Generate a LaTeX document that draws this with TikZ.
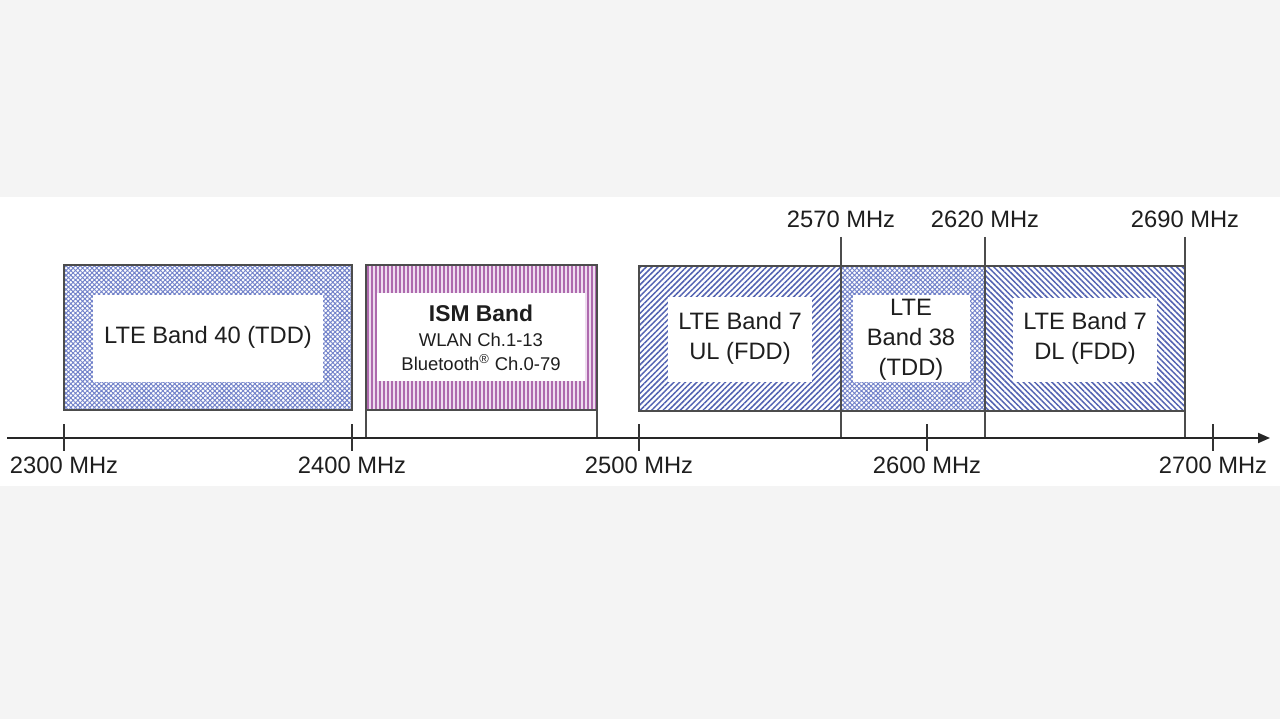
\documentclass[tikz,border=0pt]{standalone}
\usepackage{fontspec}
\setmainfont{Liberation Sans}
\usepackage{tikz}
\usetikzlibrary{arrows.meta, calc, patterns.meta, positioning}
\usepackage{xcolor}
\definecolor{hatchblue}{HTML}{5262B2}
\definecolor{crossblue}{HTML}{7282CA}
\definecolor{ismpurple}{HTML}{AE6AAE}
\definecolor{ismpink}{HTML}{EEDCEF}
\definecolor{pagegray}{HTML}{F4F4F4}
\definecolor{textgray}{HTML}{1E1E1E}

\begin{document}
\begin{tikzpicture}[x=0.02cm, y=-0.02cm, line cap=butt, line join=miter,
	>={Triangle[length=0.24cm, width=0.2cm]},
	frame/.style={draw=black!70, line width=0.6pt},
	cross/.style={pattern={Hatch[angle=45, distance=1.9pt, line width=0.55pt]}, pattern color=crossblue},
	diagne/.style={pattern={Lines[angle=45, distance=2.3pt, line width=0.85pt]}, pattern color=hatchblue},
	diagnw/.style={pattern={Lines[angle=-45, distance=2.3pt, line width=0.85pt]}, pattern color=hatchblue},
	ismlines/.style={pattern={Lines[angle=90, distance=0.08cm, line width=0.032cm]}, pattern color=ismpurple},
	label/.style={text=textgray, font=\fontsize{13.5}{16.4}\selectfont, inner sep=0pt},
	bandtext/.style={text=textgray, font=\fontsize{13.5}{17}\selectfont, align=center, inner sep=0pt},
	smalltext/.style={text=textgray, font=\fontsize{10.5}{13}\selectfont, inner sep=0pt}]
	% page and white band
	\useasboundingbox (0,0) rectangle (1280,719);
	\fill[pagegray] (0,0) rectangle (1280,719);
	\fill[white] (0,197) rectangle (1280,486);

	% frequency axis
	\coordinate (start) at (7,438);
	\coordinate (end) at (1270,438);
	\coordinate (f2300) at (64,438);
	\coordinate (f2400) at (352,438);
	\coordinate (f2500) at (639,438);
	\coordinate (f2600) at (927,438);
	\coordinate (f2700) at (1213,438);

	% LTE band 40
	\path[cross] (64,265) rectangle (352,410);
	\fill[white] (93,295) rectangle (323,382);
	\draw[frame] (64,265) rectangle (352,410);

	% ISM band
	\fill[ismpink] (366,265) rectangle (597,410);
	\path[ismlines] (366,265) rectangle (597,410);
	\fill[white] (377,293) rectangle (585,381);
	\draw[frame] (366,265) rectangle (597,410);
	\draw[frame] (366,410)--(366,438);
	\draw[frame] (597,410)--(597,438);

	% LTE band 7 and 38
	\path[diagne] (639,266) rectangle (841,411);
	\path[cross] (841,266) rectangle (985,411);
	\path[diagnw] (985,266) rectangle (1185,411);
	\fill[white] (668,297) rectangle (812,382);
	\fill[white] (853,295) rectangle (970,382);
	\fill[white] (1013,298) rectangle (1157,382);
	\draw[frame] (639,266) rectangle (1185,411);
	\draw[frame] (841,237)--(841,438);
	\draw[frame] (985,237)--(985,438);
	\draw[frame] (1185,237)--(1185,438);

	% axis and ticks
	\draw[->, line width=1.1pt, black!85] (start)--(end);
	\foreach \f in {f2300,f2400,f2500,f2600,f2700}
		\draw[line width=0.6pt, black!80] ($(\f)+(0,-14)$)--($(\f)+(0,13)$);

	% texts
	\node[label] (l2300) at (64,465) {2300 MHz};
	\node[label] (l2400) at (352,465) {2400 MHz};
	\node[label] (l2500) at (639,465) {2500 MHz};
	\node[label] (l2600) at (927,465) {2600 MHz};
	\node[label] (l2700) at (1213,465) {2700 MHz};
	\node[label] (l2570) at (841,219) {2570 MHz};
	\node[label] (l2620) at (985,219) {2620 MHz};
	\node[label] (l2690) at (1185,219) {2690 MHz};

	\node[bandtext] (b40) at (208,337) {LTE Band 40 (TDD)};
	\node[bandtext, font=\bfseries\fontsize{13}{16}\selectfont] (ism) at (481,313) {ISM Band};
	\node[smalltext] (wlan) at (481,340) {WLAN Ch.1-13};
	\node[smalltext] (bt) at (481,363) {Bluetooth\textsuperscript{\textregistered} Ch.0-79};
	\node[bandtext] (b7ul) at (740,338) {LTE Band 7\\UL (FDD)};
	\node[bandtext] (b38) at (911,340) {LTE\\Band 38\\(TDD)};
	\node[bandtext] (b7dl) at (1085,338) {LTE Band 7\\DL (FDD)};

\end{tikzpicture}
\end{document}
